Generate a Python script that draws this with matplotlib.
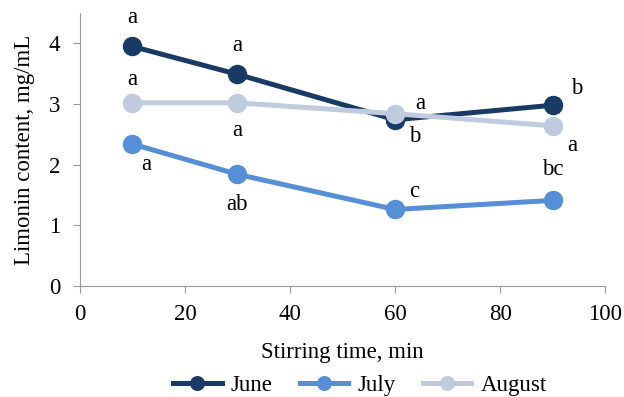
import matplotlib
matplotlib.use("Agg")
import matplotlib.pyplot as plt

plt.rcParams["font.family"] = ["Liberation Serif", "DejaVu Serif"]

# data
time_min = [10, 30, 60, 90]
june = [3.95, 3.49, 2.74, 2.98]
july = [2.34, 1.84, 1.26, 1.41]
august = [3.02, 3.02, 2.84, 2.64]
june_err = [0.03, 0.03, 0.05, 0.12]
july_err = [0.03, 0.03, 0.10, 0.03]
august_err = [0.03, 0.03, 0.03, 0.03]
june_lab = ["a", "a", "b", "b"]
july_lab = ["a", "ab", "c", "bc"]
august_lab = ["a", "a", "a", "a"]

series = [
    ("June", june, june_err, june_lab, "#1a3a66"),
    ("July", july, july_err, july_lab, "#568fd6"),
    ("August", august, august_err, august_lab, "#c1cbdf"),
]

# label offsets in points (per series, per point)
offsets = {
    "June": [(0, 21), (0, 21), (14, -12), (17, 12)],
    "July": [(10, -15), (0, -22), (14, 13), (0, 22)],
    "August": [(0, 17), (0, -20), (18, 7), (14, -14)],
}

FS = 16.5
fig = plt.figure(figsize=(6.24, 3.97), dpi=100)
ax = fig.add_axes([0.128, 0.28, 0.842, 0.687])

for name, vals, err, labs, col in series:
    ax.errorbar(time_min, vals, yerr=err, color=col, lw=3.6, marker="o", ms=13,
                ecolor="black", elinewidth=1, capsize=4, capthick=1, label=name, zorder=3)
    for x, y, t, off in zip(time_min, vals, labs, offsets[name]):
        ax.annotate(t, (x, y), xytext=off, textcoords="offset points",
                    ha="center", va="center", fontsize=FS)

ax.set_xlim(0, 100)
ax.set_ylim(0, 4.5)
ax.set_xticks(range(0, 101, 20))
ax.set_yticks(range(0, 5))
for s in ["top", "right"]:
    ax.spines[s].set_visible(False)
for s in ["left", "bottom"]:
    ax.spines[s].set_color("#999999")
ax.tick_params(axis="both", labelsize=FS, color="#999999", length=5, direction="out")
ax.tick_params(axis="x", pad=8)
ax.tick_params(axis="y", pad=9)
ax.set_xlabel("Stirring time, min", fontsize=FS, labelpad=12)
ax.set_ylabel("Limonin content, mg/mL", fontsize=FS, labelpad=10)

handles, labels = ax.get_legend_handles_labels()
handles = [h[0] for h in handles]
leg = fig.legend(handles, labels, loc="center", bbox_to_anchor=(0.577, 0.03), ncol=3,
                 frameon=False, fontsize=FS, handlelength=2.1, columnspacing=1.2,
                 handletextpad=0.4, markerscale=0.75)

plt.savefig("out.png", dpi=100)
